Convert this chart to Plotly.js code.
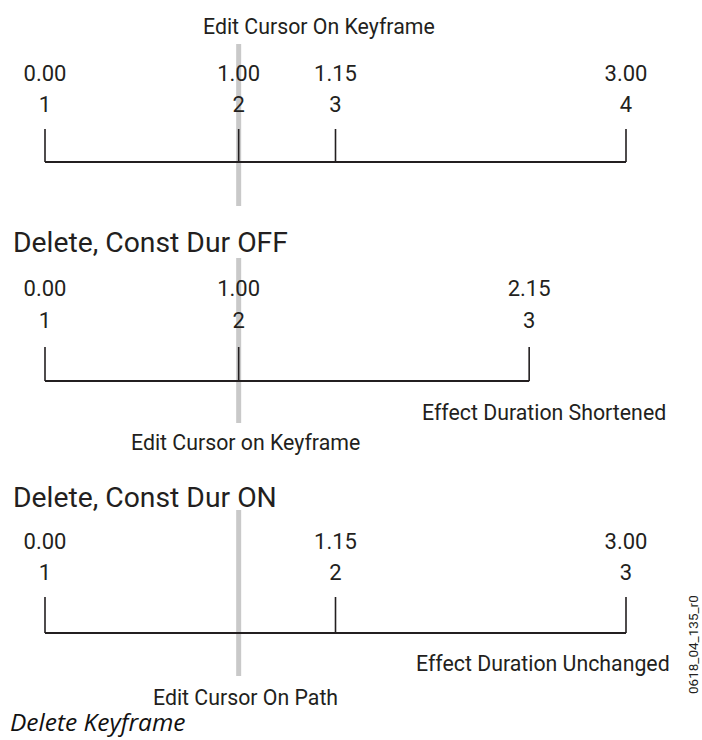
<!DOCTYPE html>
<html>
<head>
<meta charset="utf-8">
<script src="https://cdn.plot.ly/plotly-3.0.1.min.js"></script>
<style>html,body{margin:0;padding:0;background:#fff;}#chart{width:702px;height:740px;}</style>
</head>
<body>
<div id="chart"></div>
<script>
// ---- data (times in seconds; labels are seconds.frames timecode at 30 fps) ----
const panelTitles = ["", "Delete, Const Dur OFF", "Delete, Const Dur ON"];
const kfTimes1 = [0, 1.0, 1.5, 3.0];
const kfCodes1 = ["0.00", "1.00", "1.15", "3.00"];
const kfNums1  = ["1", "2", "3", "4"];
const kfTimes2 = [0, 1.0, 2.5];
const kfCodes2 = ["0.00", "1.00", "2.15"];
const kfNums2  = ["1", "2", "3"];
const kfTimes3 = [0, 1.5, 3.0];
const kfCodes3 = ["0.00", "1.15", "3.00"];
const kfNums3  = ["1", "2", "3"];
const cursorTime = 1.0;
const cursorCaptions = ["Edit Cursor On Keyframe", "Edit Cursor on Keyframe", "Edit Cursor On Path"];
const durationNotes = ["", "Effect Duration Shortened", "Effect Duration Unchanged"];
const figureCaption = "Delete Keyframe";
const figureId = "0618_04_135_r0";

// ---- layout constants (pixel rows) ----
const W = 702, H = 740;
const FONT = "Roboto, 'Liberation Sans', sans-serif";
const INK = "#231f20";
const rows = [
  {code: 75, num: 106, tickTop: 129, line: 162, curTop: 44, curBot: 206, title: null,
   capY: 27, capX: 319, noteY: null, noteX: null},
  {code: 290, num: 322, tickTop: 347, line: 381, curTop: 258, curBot: 423, title: 242,
   capY: 442, capX: 246, noteY: 412, noteX: 668},
  {code: 543, num: 574, tickTop: 597, line: 633, curTop: 510, curBot: 676, title: 497,
   capY: 697, capX: 245, noteY: 663, noteX: 672}
];
const panels = [
  {t: kfTimes1, c: kfCodes1, n: kfNums1},
  {t: kfTimes2, c: kfCodes2, n: kfNums2},
  {t: kfTimes3, c: kfCodes3, n: kfNums3}
];

const traces = [];
const annotations = [];
panels.forEach((p, i) => {
  const r = rows[i];
  // cursor (behind)
  traces.push({x: [cursorTime, cursorTime], y: [r.curTop, r.curBot], mode: 'lines',
    line: {color: '#c9c9c9', width: 5}, hoverinfo: 'skip'});
  // timeline
  traces.push({x: [p.t[0], p.t[p.t.length - 1]], y: [r.line, r.line], mode: 'lines',
    line: {color: INK, width: 2}, hoverinfo: 'skip'});
  // ticks
  const tx = [], ty = [];
  p.t.forEach(t => { tx.push(t, t, null); ty.push(r.tickTop, r.line, null); });
  traces.push({x: tx, y: ty, mode: 'lines', line: {color: INK, width: 1.6}, hoverinfo: 'skip'});
  // labels
  traces.push({x: p.t, y: p.t.map(() => r.code), mode: 'text', text: p.c,
    textposition: 'middle center', textfont: {family: FONT, size: 22, color: INK}, hoverinfo: 'skip'});
  traces.push({x: p.t, y: p.t.map(() => r.num), mode: 'text', text: p.n,
    textposition: 'middle center', textfont: {family: FONT, size: 22, color: INK}, hoverinfo: 'skip'});
  if (r.title !== null) {
    annotations.push({text: panelTitles[i], xref: 'paper', yref: 'paper', x: 11 / W, y: 1 - r.title / H,
      xanchor: 'left', yanchor: 'middle', showarrow: false, font: {family: FONT, size: 28.3, color: INK}});
  }
  annotations.push({text: cursorCaptions[i], xref: 'paper', yref: 'paper', x: r.capX / W, y: 1 - r.capY / H,
    xanchor: 'center', yanchor: 'middle', showarrow: false, font: {family: FONT, size: 21.3, color: INK}});
  if (r.noteY !== null) {
    annotations.push({text: durationNotes[i], xref: 'paper', yref: 'paper', x: r.noteX / W, y: 1 - r.noteY / H,
      xanchor: 'right', yanchor: 'middle', showarrow: false, font: {family: FONT, size: 21.3, color: INK}});
  }
});
annotations.push({text: '<i>' + figureCaption + '</i>', xref: 'paper', yref: 'paper', x: 8 / W, y: 1 - 721 / H,
  xanchor: 'left', yanchor: 'middle', showarrow: false, font: {family: "'Open Sans', 'Noto Sans', sans-serif", size: 24.5, color: '#111'}});
annotations.push({text: figureId, xref: 'paper', yref: 'paper', x: 693 / W, y: 1 - 645 / H, textangle: -90,
  xanchor: 'center', yanchor: 'middle', showarrow: false, font: {family: FONT, size: 13.5, color: INK}});

const pxPerSec = (626 - 45) / 3;
const layout = {
  width: W, height: H, margin: {l: 0, r: 0, t: 0, b: 0},
  paper_bgcolor: '#fff', plot_bgcolor: '#fff', showlegend: false,
  xaxis: {range: [-45 / pxPerSec, (W - 45) / pxPerSec], visible: false, fixedrange: true},
  yaxis: {range: [H, 0], visible: false, fixedrange: true},
  annotations: annotations
};
Plotly.newPlot('chart', traces, layout, {staticPlot: true, displayModeBar: false});
</script>
</body>
</html>
